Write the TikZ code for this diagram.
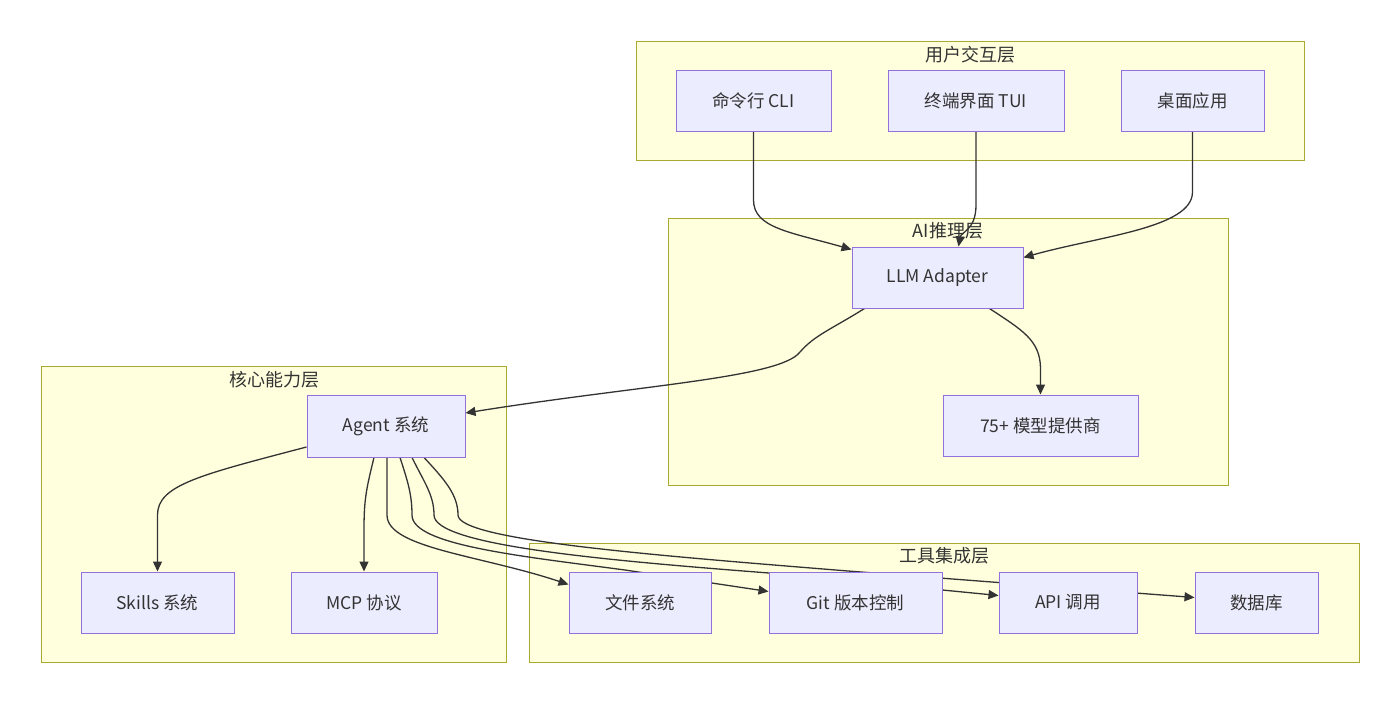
\documentclass[tikz,border=0pt]{standalone}
\usepackage{fontspec}
\setmainfont{Noto Sans CJK SC}
\usetikzlibrary{arrows.meta}
\definecolor{clfill}{HTML}{FFFFDE}
\definecolor{cldraw}{HTML}{AAAA33}
\definecolor{ndfill}{HTML}{ECECFF}
\definecolor{nddraw}{HTML}{9370DB}
\definecolor{ln}{HTML}{333333}
\pgfdeclarelayer{bg}
\pgfdeclarelayer{edgelayer}
\pgfsetlayers{bg,edgelayer,main}
\tikzset{
  cluster/.style={draw=cldraw, fill=clfill, line width=1pt, inner sep=0pt},
  cltitle/.style={text=ln, font=\fontsize{18}{21}\selectfont, inner sep=0pt},
  box/.style={draw=nddraw, fill=ndfill, line width=1pt, inner sep=0pt, text=ln,
    font=\fontsize{17.5}{21}\selectfont},
  edge/.style={draw=ln, line width=1.3pt, -{Triangle[length=10pt,width=9pt]}},
}
\newcommand{\boxat}[6]{% name, x1, y1, x2, y2, text
  \node[box, minimum width={#4-#2}, minimum height={#5-#3}] (#1) at ({(#2+#4)/2},{(#3+#5)/2}) {#6};}
\newcommand{\clat}[5]{%
  \node[cluster, minimum width={#4-#2}, minimum height={#5-#3}] (#1) at ({(#2+#4)/2},{(#3+#5)/2}) {};}
\begin{document}
\begin{tikzpicture}[x=1pt,y=-1pt]
\useasboundingbox (0,0) rectangle (1400,704);
\begin{pgfonlayer}{bg}
\fill[white] (0,0) rectangle (1400,704);
\clat{ui}{636}{41}{1304}{160}
\clat{ai}{668}{218}{1228}{485}
\clat{core}{41}{366}{506}{662}
\clat{tools}{529}{543}{1359}{662}
\end{pgfonlayer}
\node[cltitle] (tui-title) at (970,55) {用户交互层};
\node[cltitle] (ai-title) at (948,231) {AI推理层};
\node[cltitle] (core-title) at (274,380) {核心能力层};
\node[cltitle] (tools-title) at (944,556) {工具集成层};

\boxat{cli}{676}{70}{831}{131}{命令行 CLI}
\boxat{tui}{888}{70}{1064}{131}{终端界面 TUI}
\boxat{desk}{1121}{70}{1264}{131}{桌面应用}
\boxat{llm}{852}{247}{1023}{308}{LLM Adapter}
\boxat{models}{943}{395}{1138}{456}{75+ 模型提供商}
\boxat{agent}{307}{395}{465}{457}{Agent 系统}
\boxat{skills}{81}{572}{234}{633}{Skills 系统}
\boxat{mcp}{291}{572}{437}{633}{MCP 协议}
\boxat{fs}{569}{572}{711}{633}{文件系统}
\boxat{git}{769}{572}{942}{633}{Git 版本控制}
\boxat{api}{999}{572}{1137}{633}{API 调用}
\boxat{db}{1195}{572}{1318}{633}{数据库}

\begin{pgfonlayer}{edgelayer}
\draw[edge] (cli.south) -- (753.5,200) .. controls (753.5,228) and (790,232) .. ([yshift=-3pt]llm.north west);
\draw[edge] (tui.south) -- (976,205) .. controls (976,230) and (961,232) .. ([xshift=21pt]llm.north);
\draw[edge] (desk.south) -- (1192.5,192) .. controls (1192.5,228) and (1100,236) .. ([yshift=-11pt]llm.north east);
\draw[edge] ([xshift=13pt]llm.south west) .. controls (830,330) and (815,335) .. (800,352)
   .. controls (780,378) and (640,385) .. ([yshift=13pt]agent.east);
\draw[edge] ([xshift=52pt]llm.south) .. controls (1022,330) and (1040,340) .. (1040.5,368) -- (models.north);
\draw[edge] ([yshift=-21pt]agent.west) .. controls (200,475) and (157.5,485) .. (157.5,515) -- (skills.north);
\draw[edge] ([xshift=-12pt]agent.south) .. controls (366,490) and (364,500) .. (364,530) -- (mcp.north);
\draw[edge] ([xshift=1pt]agent.south) -- (387,515) .. controls (387,548) and (480,555) .. ([yshift=18pt]fs.west);
\draw[edge] ([xshift=14pt]agent.south) .. controls (408,482) and (412,495) .. (412,515)
   .. controls (412,545) and (520,556) .. (625,570) -- ([yshift=11pt]git.west);
\draw[edge] ([xshift=26pt]agent.south) .. controls (424,482) and (434,495) .. (434,515)
   .. controls (434,545) and (600,560) .. (769,573) -- ([yshift=7pt]api.west);
\draw[edge] ([xshift=38pt]agent.south) .. controls (445,480) and (458,495) .. (458,515)
   .. controls (458,540) and (650,555) .. (848,571) -- ([yshift=5pt]db.west);
\end{pgfonlayer}
\end{tikzpicture}
\end{document}
